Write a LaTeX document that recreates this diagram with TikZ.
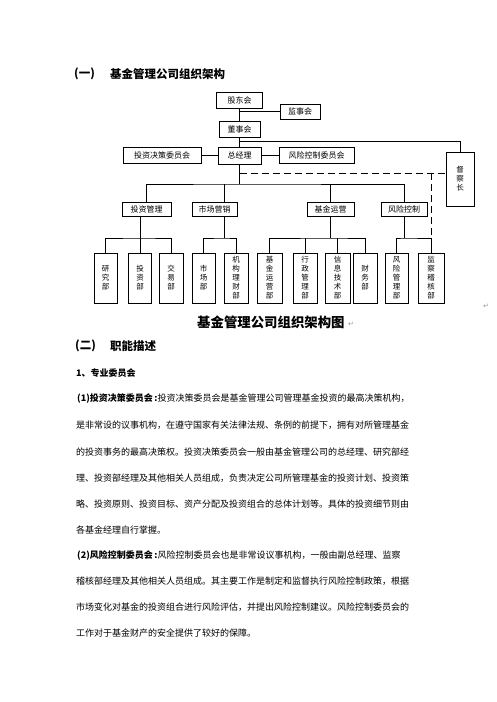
\documentclass[tikz,border=0pt]{standalone}
\usepackage{fontspec}
\setmainfont{Noto Sans CJK SC}
\newfontfamily\symf{DejaVu Sans}
\XeTeXlinebreaklocale "zh"
\XeTeXlinebreakskip=0pt plus 1fil
\newcommand\jline[2]{\hbox to #1pt{#2}}
\begin{document}
\begin{tikzpicture}[x=1pt,y=-1pt,
  box/.style={draw, line width=0.8pt, inner sep=0pt, font=\fontsize{8}{9}\selectfont},
  vbox/.style={box, align=center, minimum height=50pt, font=\fontsize{7.5}{9}\selectfont},
  ln/.style={line width=0.8pt},
  dsh/.style={line width=0.8pt, dash pattern=on 7pt off 4pt},
  tx/.style={anchor=west, inner sep=0pt, font=\fontsize{9}{11}\selectfont},
  hd/.style={anchor=west, inner sep=0pt, font=\bfseries\fontsize{11.5}{13}\selectfont},
  pm/.style={inner sep=0pt, text=black!40, font=\symf\fontsize{7}{8}\selectfont}]
\useasboundingbox (0,0) rectangle (496,702);
\fill[white] (0,0) rectangle (496,702);

% headings
\node[hd] (h1a) at (74,74) {(一)};
\node[hd] (h1b) at (110,74) {基金管理公司组织架构};

% level 0-1
\node[box, minimum width=46pt, minimum height=16pt] (gdh) at (239.5,100) {股东会};
\node[box, minimum width=40pt, minimum height=15pt] (jsh) at (300,111.5) {监事会};
\node[box, minimum width=41pt, minimum height=16pt] (dsh) at (239.5,129) {董事会};
\node[box, minimum width=43pt, minimum height=17pt] (zjl) at (239.5,155.5) {总经理};
\node[box, minimum width=78pt, minimum height=16pt] (tzjc) at (162,155.5) {投资决策委员会};
\node[box, minimum width=75pt, minimum height=16pt] (fkwy) at (316.5,155.5) {风险控制委员会};
\node[vbox, minimum width=28pt, minimum height=54pt] (dcz) at (460,179) {督\\察\\长};

% level 2
\node[box, minimum width=49pt, minimum height=14pt] (tzgl) at (146.5,209) {投资管理};
\node[box, minimum width=45pt, minimum height=14pt] (scyx) at (214.5,209) {市场营销};
\node[box, minimum width=47pt, minimum height=14pt] (jjyy) at (330.5,209) {基金运营};
\node[box, minimum width=46pt, minimum height=14pt] (fxkz) at (404,209) {风险控制};

% level 3
\node[vbox, minimum width=23pt] (yjb) at (105.5,278) {研\\究\\部};
\node[vbox, minimum width=23pt] (tzb) at (140,278) {投\\资\\部};
\node[vbox, minimum width=24pt] (jyb) at (171,278) {交\\易\\部};
\node[vbox, minimum width=23pt] (scb) at (203.5,278) {市\\场\\部};
\node[vbox, minimum width=24pt] (jglc) at (236,278) {机\\构\\理\\财\\部};
\node[vbox, minimum width=25pt] (jjyyb) at (269.5,278) {基\\金\\运\\营\\部};
\node[vbox, minimum width=24pt] (xzgl) at (305,278) {行\\政\\管\\理\\部};
\node[vbox, minimum width=25pt] (xxjs) at (337.5,278) {信\\息\\技\\术\\部};
\node[vbox, minimum width=24pt] (cwb) at (365,278) {财\\务\\部};
\node[vbox, minimum width=23pt] (fxgl) at (396.5,278) {风\\险\\管\\理\\部};
\node[vbox, minimum width=26pt] (jcjh) at (431,278) {监\\察\\稽\\核\\部};

% connectors top
\draw[ln] (gdh) -- (dsh);
\draw[ln] (jsh.west) -- (jsh.west -| gdh.south);
\draw[ln] (dsh) -- (zjl);
\coordinate (b1) at (239.5,141);
\draw[ln] (b1) -| (dcz.north);
\draw[ln] (tzjc) -- (zjl);
\draw[ln] (zjl) -- (fkwy);
\coordinate (b2) at (239.5,173);
\draw[dsh] (b2) -- (b2 -| dcz.west);
\coordinate (bus) at (239.5,184);
\draw[ln] (zjl) -- (bus);
\draw[ln] (tzgl.north) |- (bus) -| (fxkz.north);
\coordinate (mx) at (224,184);
\draw[ln] (mx) -- (mx |- scyx.north);
\draw[ln] (jjyy.north) -- (jjyy.north |- bus);

% sub-buses
\coordinate (s1) at (140,238);
\draw[ln] (s1 |- tzgl.south) -- (tzb.north);
\draw[ln] (yjb.north) |- (s1) -| (jyb.north);
\coordinate (s2) at (224,238);
\draw[ln] (s2 |- scyx.south) -- (s2);
\draw[ln] (scb.north) |- (s2) -| (jglc.north);
\coordinate (s3) at (330.5,238);
\draw[ln] (jjyy.south) -- (s3);
\draw[ln] (jjyyb.north) |- (s3) -| (cwb.north);
\draw[ln] (xzgl.north) -- (xzgl.north |- s3);
\draw[ln] (xxjs.north) -- (xxjs.north |- s3);
\coordinate (s4) at (404,238);
\draw[ln] (fxkz.south) -- (s4);
\draw[ln] (fxgl.north) |- (s4) -| (jcjh.north);
\draw[dsh] (jcjh.north |- b2) -- (jcjh.north |- s4);

% caption and marks
\node[anchor=west, inner sep=0pt, font=\bfseries\fontsize{13.4}{15}\selectfont] (cap) at (197,322) {基金管理公司组织架构图};
\node[pm] (pm1) at (351,324) {↵};
\node[pm] (pm2) at (486,306) {↵};

% section 2
\node[hd] (h2a) at (75,346) {(二)};
\node[hd] (h2b) at (110,346) {职能描述};
\node[tx, font=\bfseries\fontsize{9}{11}\selectfont] (h3) at (76,373) {1、专业委员会};

\node[tx] (l1) at (77,399) {\jline{345}{\hbox{\bfseries(1)投资决策委员会\,:}投资决策委员会是基金管理公司管理基金投资的最高决策机构，}};
\node[tx] (l2) at (76,425) {\jline{339}{是非常设的议事机构，在遵守国家有关法律法规、条例的前提下，拥有对所管理基金}};
\node[tx] (l3) at (76,452) {\jline{344}{的投资事务的最高决策权。投资决策委员会一般由基金管理公司的总经理、研究部经}};
\node[tx] (l4) at (76,478) {\jline{342}{理、投资部经理及其他相关人员组成，负责决定公司所管理基金的投资计划、投资策}};
\node[tx] (l5) at (76,504) {\jline{342}{略、投资原则、投资目标、资产分配及投资组合的总体计划等。具体的投资细节则由}};
\node[tx] (l6) at (76,530) {各基金经理自行掌握。};
\node[tx] (l7) at (77,556) {\jline{343}{\hbox{\bfseries(2)风险控制委员会\,:}风险控制委员会也是非常设议事机构，一般由副总经理、监察}};
\node[tx] (l8) at (76,581) {\jline{341}{稽核部经理及其他相关人员组成。其主要工作是制定和监督执行风险控制政策，根据}};
\node[tx] (l9) at (76,607) {\jline{341}{市场变化对基金的投资组合进行风险评估，并提出风险控制建议。风险控制委员会的}};
\node[tx] (l10) at (76,633) {工作对于基金财产的安全提供了较好的保障。};
\end{tikzpicture}
\end{document}
